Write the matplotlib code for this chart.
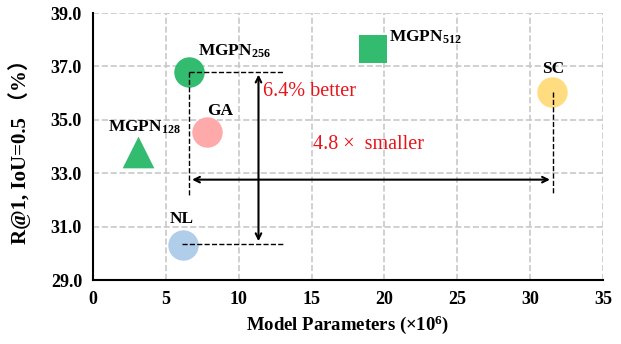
import matplotlib.pyplot as plt

plt.rcParams['font.family'] = ['Liberation Serif', 'Noto Sans CJK SC', 'DejaVu Serif']
plt.rcParams['mathtext.fontset'] = 'custom'
plt.rcParams['mathtext.rm'] = 'Liberation Serif'
plt.rcParams['mathtext.bf'] = 'Liberation Serif:bold'
plt.rcParams['mathtext.it'] = 'Liberation Serif:italic'

# model data: (params x1e6, R@1 %)
names = ["MGPN$_{\\mathbf{128}}$", "MGPN$_{\\mathbf{256}}$", "MGPN$_{\\mathbf{512}}$", "GA", "NL", "SC"]
params = [3.1, 6.6, 19.2, 7.8, 6.2, 31.5]
scores = [33.8, 36.8, 37.65, 34.55, 30.3, 36.05]
markers = ['^', 'o', 's', 'o', 'o', 'o']
colors = ['#33bb6f', '#33bb6f', '#33bb6f', '#ffaaaa', '#b0cdea', '#ffdc80']

# label anchors (x, y, ha)
label_pos = [(1.0, 34.72, 'left'), (7.2, 37.55, 'left'), (20.3, 38.1, 'left'),
             (8.7, 35.35, 'center'), (6.1, 31.3, 'center'), (31.55, 36.9, 'center')]

xticks = [0, 5, 10, 15, 20, 25, 30, 35]
yticks = [29.0, 31.0, 33.0, 35.0, 37.0, 39.0]

fig = plt.figure(figsize=(6.21, 3.44), dpi=100)
ax = fig.add_axes([0.150, 0.186, 0.821, 0.776])

for x, y, m, c in zip(params, scores, markers, colors):
    size = 480 if m == 'o' else (430 if m == 's' else 520)
    ax.scatter(x, y, s=size, marker=m, color=c, zorder=3, linewidths=0)

for name, (lx, ly, ha) in zip(names, label_pos):
    ax.text(lx, ly, name, ha=ha, va='center', fontsize=12.5, fontweight='bold', zorder=5)

# annotation lines
mg = 1  # MGPN256
nl = 4
sc = 5
ax.plot([params[mg], params[mg]], [scores[mg], 32.2], 'k--', lw=1, zorder=4)
ax.plot([params[mg], 13.05], [scores[mg], scores[mg]], 'k--', lw=1, zorder=4)
ax.plot([6.1, 13.05], [scores[nl] + 0.05, scores[nl] + 0.05], 'k--', lw=1, zorder=4)
ax.plot([params[sc] + 0.05, params[sc] + 0.05], [scores[sc], 32.2], 'k--', lw=1, zorder=4)

ax.annotate('', xy=(11.35, scores[mg]), xytext=(11.35, scores[nl] + 0.05),
            arrowprops=dict(arrowstyle='<->', color='k', lw=1.5), zorder=4)
ax.annotate('', xy=(params[mg], 32.76), xytext=(params[sc] + 0.05, 32.76),
            arrowprops=dict(arrowstyle='<->', color='k', lw=1.5), zorder=4)

ax.text(11.65, 36.08, "6.4% better", color='#e8141c', fontsize=14.5, ha='left', va='center')
ax.text(15.1, 34.06, "4.8 ×  smaller", color='#e8141c', fontsize=14.5, ha='left', va='center')

ax.set_xlim(0, 35)
ax.set_ylim(29, 39)
ax.set_xticks(xticks)
ax.set_yticks(yticks)
ax.set_yticklabels([f"{v:.1f}" for v in yticks])
ax.tick_params(length=0, labelsize=13, pad=8)
for lab in ax.get_xticklabels() + ax.get_yticklabels():
    lab.set_fontweight('bold')

ax.grid(True, color='#c8c8c8', linestyle='--', lw=1.2, zorder=0)
ax.set_axisbelow(True)
ax.spines['top'].set_visible(False)
ax.spines['right'].set_visible(False)
ax.spines['left'].set_linewidth(1.5)
ax.spines['bottom'].set_linewidth(1.5)

ax.set_xlabel("Model Parameters (×10$^{\\mathbf{6}}$)", fontsize=13.5, fontweight='bold')
ax.set_ylabel("R@1, IoU=0.5 （%）", fontsize=15, fontweight='bold', labelpad=14)

fig.savefig("out.png", dpi=100)
